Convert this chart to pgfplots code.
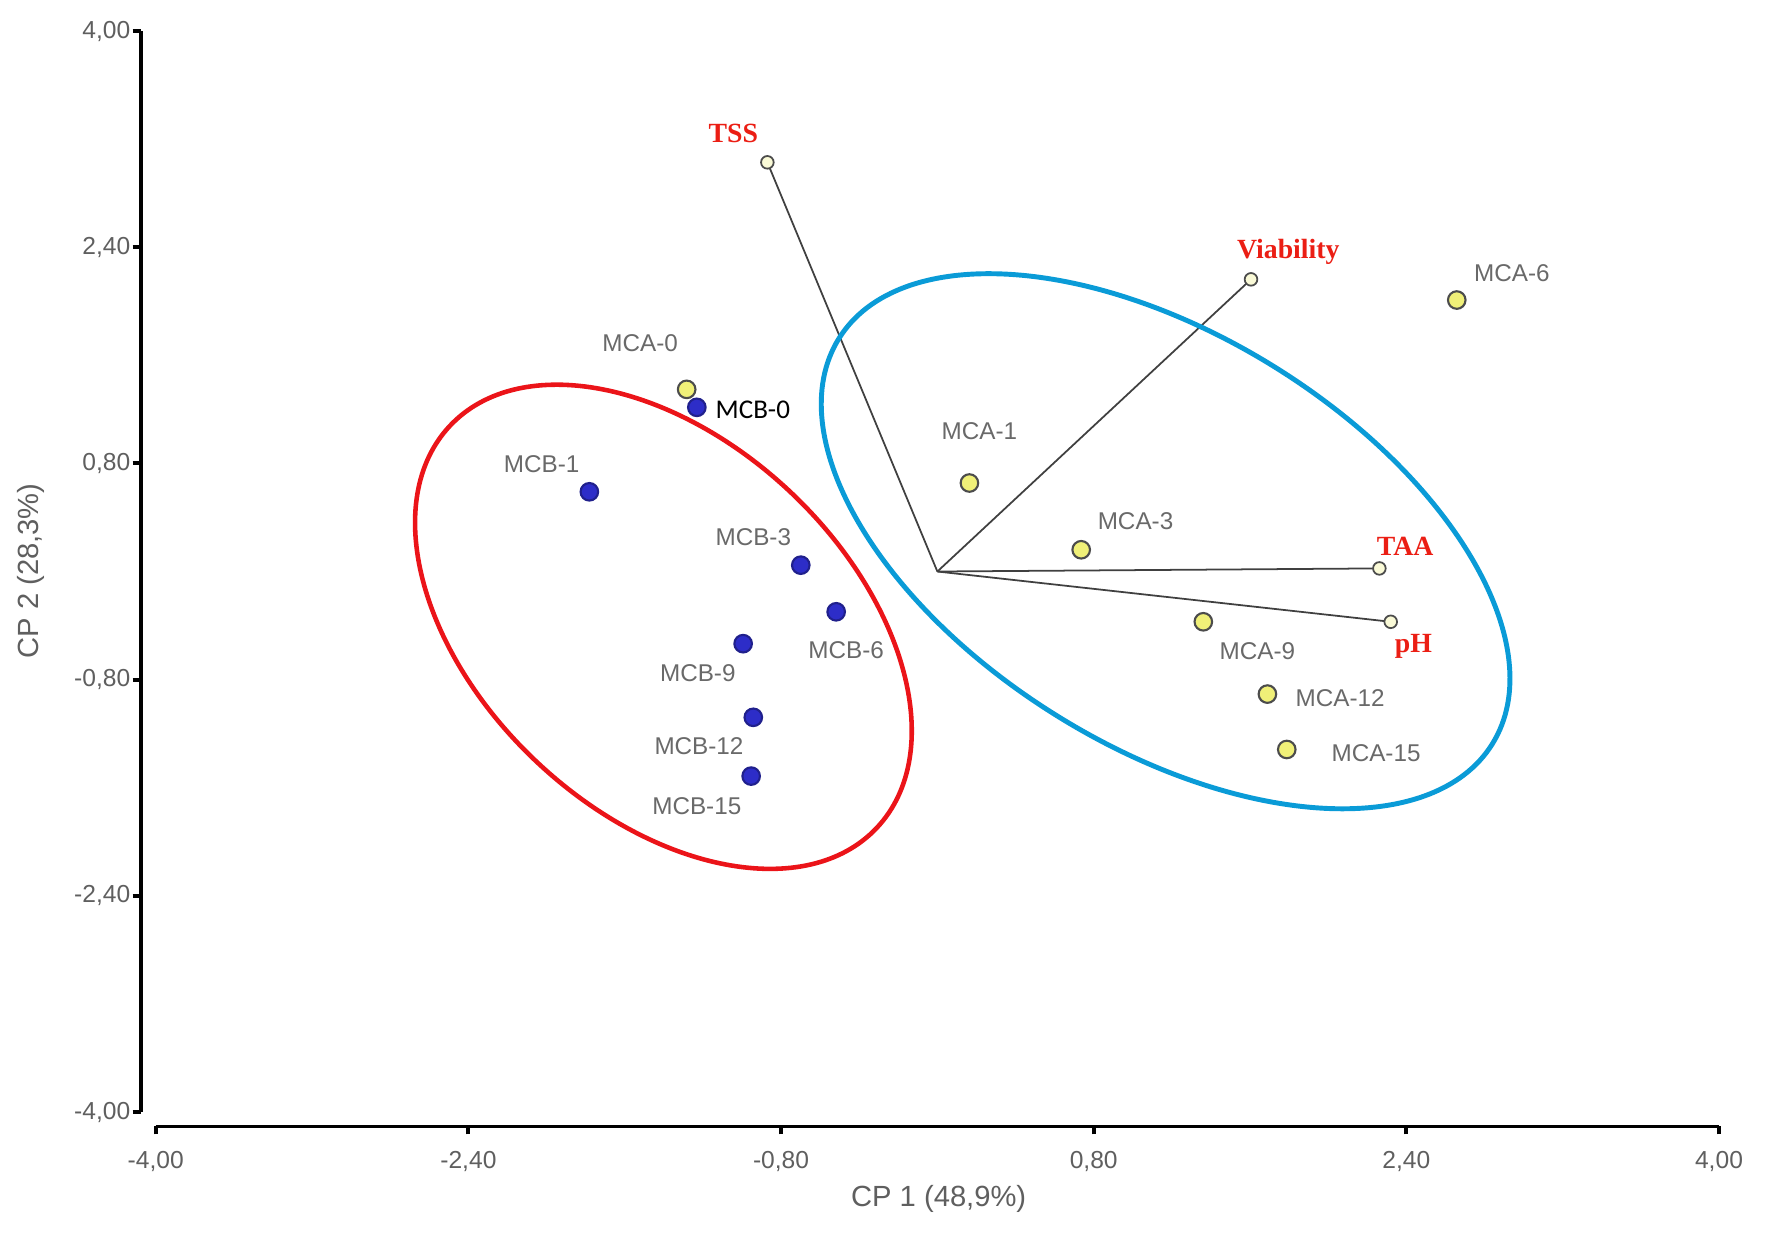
\documentclass[border=0pt]{standalone}
\usepackage{pgfplots}
\pgfplotsset{compat=1.18}
\usepackage{fontspec}
\setmainfont{Liberation Sans}
\newfontfamily\timesf{Liberation Serif}
\newfontfamily\calib{Carlito}
\definecolor{ptgray}{RGB}{105,105,105}
\definecolor{tkgray}{RGB}{95,95,95}
\definecolor{varred}{RGB}{235,30,20}
\definecolor{ellred}{RGB}{235,20,25}
\definecolor{ellblue}{RGB}{10,155,215}
\definecolor{mcafill}{RGB}{240,240,120}
\definecolor{mcbfill}{RGB}{45,45,200}
\definecolor{endfill}{RGB}{250,250,215}
\begin{document}
\begin{tikzpicture}
\begin{axis}[
  scale only axis,
  width=15.783cm, height=10.955cm,
  xmin=-4.077, xmax=4, ymin=-4.107, ymax=4,
  axis x line=bottom, axis y line=left,
  x axis line style={-, line width=1.1pt, shorten <=0.15cm},
  y axis line style={-, line width=1.1pt, shorten <=0.145cm},
  tick align=outside,
  major tick length=0.08cm,
  tick style={line width=1.1pt, black},
  xtick={-4,-2.4,-0.8,0.8,2.4,4},
  ytick={-4,-2.4,-0.8,0.8,2.4,4},
  xticklabels={{-4,00},{-2,40},{-0,80},{0,80},{2,40},{4,00}},
  yticklabels={{-4,00},{-2,40},{-0,80},{0,80},{2,40},{4,00}},
  ticklabel style={font=\fontsize{7}{8}\selectfont, text=tkgray},
  xticklabel style={yshift=-0.04cm},
  yticklabel style={xshift=0.1cm},
  xlabel={CP 1 (48,9\%)}, ylabel={CP 2 (28,3\%)},
  label style={font=\fontsize{8.3}{10}\selectfont, text=tkgray},
  x label style={at={(axis description cs:0.5056,-0.0662)}, anchor=center},
  y label style={at={(axis description cs:-0.0698,0.5071)}, anchor=center},
  clip=false,
]
% loading vectors
\addplot[no marks, line width=0.5pt, black!75] coordinates {(0,0) (-0.870,3.028)};
\addplot[no marks, line width=0.5pt, black!75] coordinates {(0,0) (1.605,2.162)};
\addplot[no marks, line width=0.5pt, black!75] coordinates {(0,0) (2.262,0.023)};
\addplot[no marks, line width=0.5pt, black!75] coordinates {(0,0) (2.320,-0.372)};
% group ellipses
\draw[ellred, line width=1.3pt] (axis cs:-1.402,-0.409) ellipse [x radius=2.932cm, y radius=1.852cm, rotate=-43.3];
\draw[ellblue, line width=1.4pt] (axis cs:1.168,0.224) ellipse [x radius=3.845cm, y radius=2.056cm, rotate=-31.8];
% vector ends
\addplot[only marks, mark=*, mark size=1.8pt, mark options={fill=endfill, draw=black!70, line width=0.5pt}] coordinates {
(-0.870,3.028) (1.605,2.162) (2.262,0.023) (2.320,-0.372)};
% MCA
\addplot[only marks, mark=*, mark size=2.5pt, mark options={fill=mcafill, draw=black!70, line width=0.6pt}] coordinates {
(-1.283,1.348) (0.164,0.655) (0.736,0.161) (2.658,2.009) (1.361,-0.372) (1.689,-0.907) (1.788,-1.317)};
% MCB
\addplot[only marks, mark=*, mark size=2.5pt, mark options={fill=mcbfill, draw=mcbfill!70!black, line width=0.6pt}] coordinates {
(-1.231,1.215) (-1.781,0.590) (-0.699,0.047) (-0.518,-0.298) (-0.994,-0.534) (-0.942,-1.079) (-0.953,-1.514)};
% point labels
\begin{scope}[every node/.style={font=\fontsize{6.9}{8}\selectfont, text=ptgray, inner sep=0pt}]
\node at (axis cs:-1.521,1.688) {MCA-0};
\node at (axis cs:0.215,1.040) {MCA-1};
\node at (axis cs:1.014,0.370) {MCA-3};
\node at (axis cs:2.940,2.207) {MCA-6};
\node at (axis cs:1.638,-0.587) {MCA-9};
\node at (axis cs:2.061,-0.939) {MCA-12};
\node at (axis cs:2.245,-1.346) {MCA-15};
\node at (axis cs:-2.025,0.795) {MCB-1};
\node at (axis cs:-0.942,0.257) {MCB-3};
\node at (axis cs:-0.467,-0.584) {MCB-6};
\node at (axis cs:-1.226,-0.752) {MCB-9};
\node at (axis cs:-1.220,-1.296) {MCB-12};
\node at (axis cs:-1.231,-1.739) {MCB-15};
\end{scope}
\node[anchor=west, inner sep=0pt, font=\calib\fontsize{7.7}{9}\selectfont, text=black] at (axis cs:-1.138,1.200) {MCB-0};
% variable labels
\begin{scope}[every node/.style={font=\timesf\bfseries\fontsize{7.9}{9}\selectfont, text=varred, inner sep=0pt}]
\node at (axis cs:-1.044,3.243) {TSS};
\node at (axis cs:1.796,2.366) {Viability};
\node at (axis cs:2.394,0.188) {TAA};
\node at (axis cs:2.436,-0.557) {pH};
\end{scope}
\end{axis}
\pgfresetboundingbox
\path[use as bounding box] (-1.407,-1.095) rectangle (16.313,11.265);
\end{tikzpicture}
\end{document}
